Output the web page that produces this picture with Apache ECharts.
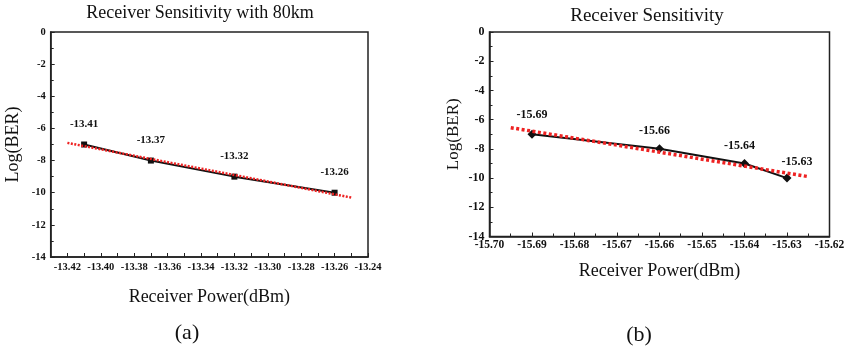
<!DOCTYPE html>
<html><head><meta charset="utf-8">
<script src="https://cdn.jsdelivr.net/npm/echarts@6/dist/echarts.min.js"></script>
<style>html,body{margin:0;padding:0;background:#fff}#c{width:848px;height:353px}</style>
</head><body><div id="c"></div>
<script>
// Chart (a)
var titleA = 'Receiver Sensitivity with 80km';
var powerA = [-13.41, -13.37, -13.32, -13.26];
var berA = [-7, -8, -9, -10];
var fitA_x = [-13.42, -13.25];
var fitA_y = [-6.9, -10.3];
// Chart (b)
var titleB = 'Receiver Sensitivity';
var powerB = [-15.69, -15.66, -15.64, -15.63];
var berB = [-7, -8, -9, -10];
var fitB_x = [-15.695, -15.625];
var fitB_y = [-6.55, -9.9];
var xName = 'Receiver Power(dBm)';
var yName = 'Log(BER)';
var captions = ['(a)', '(b)'];

var serif = '"Liberation Serif", "Times New Roman", serif';
var axisCol = '#222';
function pairs(xs, ys){ return xs.map(function(x,i){ return [x, ys[i]]; }); }

var labelOffB = [[0,0],[-5,2],[-5,2],[10,3]];

var chart = echarts.init(document.getElementById('c'));
function yAxis(gi, fs, nfs, gap){
  return {
    type:'value', gridIndex:gi, min:-14, max:0, interval:2,
    name:yName, nameLocation:'middle', nameGap:gap,
    nameTextStyle:{fontFamily:serif, fontSize:nfs, color:'#111'},
    axisLine:{show:true, lineStyle:{color:axisCol, width:1.5}},
    axisTick:{show:true, inside:true, length:4, lineStyle:{color:axisCol}},
    minorTick:{show:true, splitNumber:2, length:3, lineStyle:{color:axisCol}},
    splitLine:{show:false},
    axisLabel:{fontFamily:serif, fontWeight:'bold', fontSize:fs, color:'#111', margin:5}
  };
}
var option = {
  animation:false,
  grid:[
    {left:50.7, top:32, right:480, bottom:96, show:true, borderColor:axisCol, borderWidth:1.5},
    {left:489.5, top:32, right:18.5, bottom:116.5, show:true, borderColor:axisCol, borderWidth:1.5}
  ],
  xAxis:[
    {type:'value', gridIndex:0, min:-13.43, max:-13.24, interval:0.01,
     name:xName, nameLocation:'middle', nameGap:31,
     nameTextStyle:{fontFamily:serif, fontSize:18, color:'#111'},
     axisLine:{show:true, onZero:false, lineStyle:{color:axisCol, width:1.5}},
     axisTick:{show:true, inside:true, length:4, lineStyle:{color:axisCol}},
     splitLine:{show:false},
     axisLabel:{fontFamily:serif, fontWeight:'bold', fontSize:10.5, color:'#111', margin:5,
       formatter:function(v){ var k=Math.round(v*100); return (Math.abs(k)%2===0)? (k/100).toFixed(2) : ''; }}},
    {type:'value', gridIndex:1, min:-15.70, max:-15.62, interval:0.01,
     name:xName, nameLocation:'middle', nameGap:26,
     nameTextStyle:{fontFamily:serif, fontSize:18, color:'#111'},
     axisLine:{show:true, onZero:false, lineStyle:{color:axisCol, width:1.5}},
     axisTick:{show:true, inside:true, length:4, lineStyle:{color:axisCol}},
     minorTick:{show:true, splitNumber:2, length:3, lineStyle:{color:axisCol}},
     splitLine:{show:false},
     axisLabel:{fontFamily:serif, fontWeight:'bold', fontSize:11.5, color:'#111', margin:3,
       formatter:function(v){ return (Math.round(v*100)/100).toFixed(2); }}}
  ],
  yAxis:[ yAxis(0, 10.5, 18, 28), yAxis(1, 12, 17, 27) ],
  series:[
    {type:'line', xAxisIndex:0, yAxisIndex:0, data:pairs(powerA, berA),
     symbol:'rect', symbolSize:6, itemStyle:{color:'#111'}, lineStyle:{color:'#111', width:2},
     label:{show:true, position:'top', distance:12, fontFamily:serif, fontWeight:'bold', fontSize:11, color:'#111',
       formatter:function(p){ return p.value[0].toFixed(2); }}, z:2},
    {type:'line', xAxisIndex:0, yAxisIndex:0, data:pairs(fitA_x, fitA_y), symbol:'none',
     lineStyle:{color:'#ee2222', width:2.5, type:[2,1.5]}, z:3},
    {type:'line', xAxisIndex:1, yAxisIndex:1,
     data:pairs(powerB, berB).map(function(d,i){ return {value:d, label:{offset:labelOffB[i]}}; }),
     symbol:'diamond', symbolSize:9, itemStyle:{color:'#111'}, lineStyle:{color:'#111', width:2},
     label:{show:true, position:'top', distance:9, fontFamily:serif, fontWeight:'bold', fontSize:12, color:'#111',
       formatter:function(p){ return p.value[0].toFixed(2); }}, z:2},
    {type:'line', xAxisIndex:1, yAxisIndex:1, data:pairs(fitB_x, fitB_y), symbol:'none',
     lineStyle:{color:'#ee2222', width:3.5, type:[3,2.5]}, z:3}
  ],
  graphic:[
    {type:'text', left:'auto', x:200, y:13.5, style:{text:titleA, font:'18px '+serif, fill:'#111', textAlign:'center', textVerticalAlign:'middle'}},
    {type:'text', x:647, y:16.5, style:{text:titleB, font:'19px '+serif, fill:'#111', textAlign:'center', textVerticalAlign:'middle'}},
    {type:'text', x:187, y:333, style:{text:captions[0], font:'22px '+serif, fill:'#111', textAlign:'center', textVerticalAlign:'middle'}},
    {type:'text', x:639, y:335, style:{text:captions[1], font:'22px '+serif, fill:'#111', textAlign:'center', textVerticalAlign:'middle'}}
  ]
};
chart.setOption(option);
</script></body></html>
